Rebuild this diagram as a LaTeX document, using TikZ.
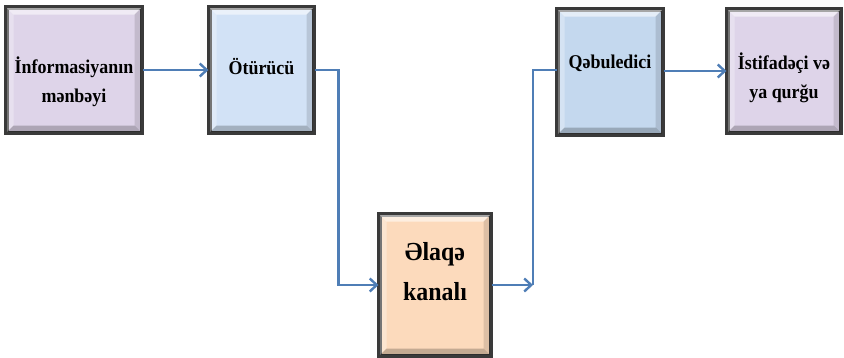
\documentclass[tikz,border=0pt]{standalone}
\usepackage{fontspec}
\setmainfont{Liberation Serif}
\newfontfamily\boxfont[FakeStretch=0.92]{Liberation Serif}
\usetikzlibrary{arrows.meta,calc}
\definecolor{purp}{RGB}{222,212,233}
\definecolor{lblue}{RGB}{210,226,246}
\definecolor{mblue}{RGB}{196,216,238}
\definecolor{peach}{RGB}{252,218,188}
\definecolor{edge}{RGB}{58,58,58}
\definecolor{conn}{RGB}{79,126,182}
\tikzset{
  box/.style={draw=edge, line width=3pt, inner sep=0pt},
  lbl/.style={font=\boxfont\bfseries\fontsize{19.5}{29}\selectfont, align=center, inner sep=0pt, text=black},
  biglbl/.style={font=\boxfont\bfseries\fontsize{26}{40}\selectfont, align=center, inner sep=0pt, text=black},
  arr/.style={draw=conn, line width=2.8pt, -{Straight Barb[length=7pt,width=13pt,line width=2.4pt]}},
  ln/.style={draw=conn, line width=2.8pt},
}
\newcommand\bevelbox[1]{%
  \fill[white,opacity=0.55] (#1.north west) -- (#1.north east) -- ($(#1.north east)+(-8,8)$) -- ($(#1.north west)+(8,8)$) -- cycle;
  \fill[white,opacity=0.3] (#1.north west) -- ($(#1.north west)+(8,8)$) -- ($(#1.south west)+(8,-8)$) -- (#1.south west) -- cycle;
  \fill[black,opacity=0.12] (#1.north east) -- (#1.south east) -- ($(#1.south east)+(-8,-8)$) -- ($(#1.north east)+(-8,8)$) -- cycle;
  \fill[black,opacity=0.22] (#1.south west) -- (#1.south east) -- ($(#1.south east)+(-8,-8)$) -- ($(#1.south west)+(8,-8)$) -- cycle;
  \draw[edge, line width=3pt] (#1.north west) rectangle (#1.south east);
}
\begin{document}
\begin{tikzpicture}[x=1pt,y=-1pt]
\useasboundingbox (0,0) rectangle (844,357);
% boxes
\node[box, fill=purp, minimum width=134pt, minimum height=124pt] (src) at (74,70) {};
\node[box, fill=lblue, minimum width=103pt, minimum height=124pt] (tx) at (261.5,70) {};
\node[box, fill=peach, minimum width=110pt, minimum height=140pt] (ch) at (435,285) {};
\node[box, fill=mblue, minimum width=104pt, minimum height=124pt] (rx) at (610,72) {};
\node[box, fill=purp, minimum width=112pt, minimum height=122pt] (us) at (784,71) {};
\bevelbox{src}\bevelbox{tx}\bevelbox{ch}\bevelbox{rx}\bevelbox{us}
% texts
\node[lbl] (srcT) at (74,82) {İnformasiyanın\\mənbəyi};
\node[lbl] (txT) at (261.5,67) {Ötürücü};
\node[biglbl] (chT) at (435,272) {Əlaqə\\kanalı};
\node[lbl] (rxT) at (610,63) {Qəbuledici};
\node[lbl] (usT) at (784,78) {İstifadəçi və\\ya qurğu};
% connectors
\coordinate (turn) at (533,285);
\draw[arr] (src.east) -- (tx.west);
\draw[arr] (tx.east) -- ++(24,0) |- (ch.west);
\draw[arr] (ch.east) -- (turn);
\draw[ln] (turn) |- ($(rx.west)+(0,-2)$);
\draw[arr] ($(rx.east)+(0,-1)$) -- ($(rx.east -| us.west)+(0,-1)$);
\end{tikzpicture}
\end{document}
